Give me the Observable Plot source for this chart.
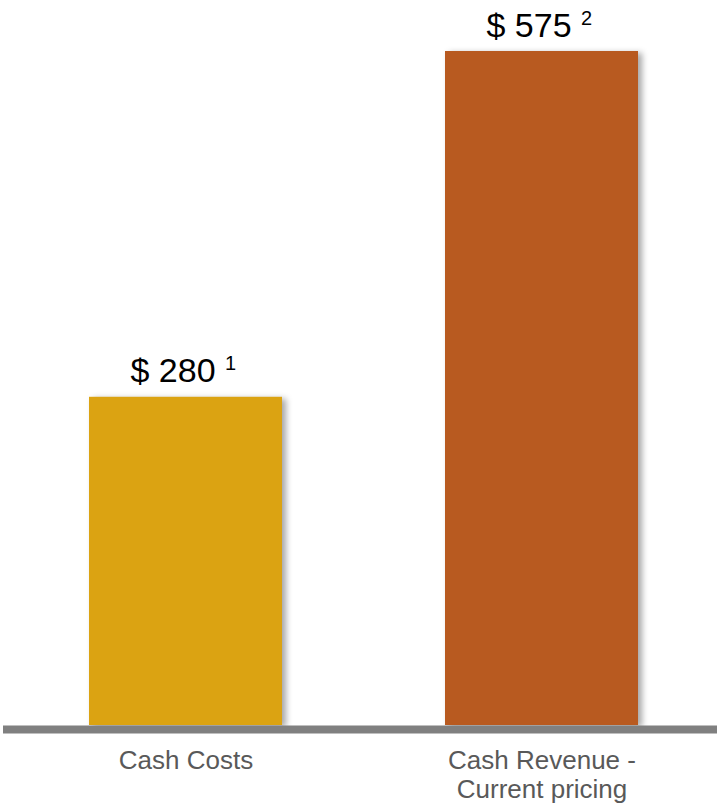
<!DOCTYPE html>
<html><head><meta charset="utf-8">
<script src="https://cdn.jsdelivr.net/npm/d3@7"></script>
<script src="https://cdn.jsdelivr.net/npm/@observablehq/plot@0.6"></script>
<style>
body{margin:0;background:#fff;}
#chart svg g[aria-label="bar"] rect{filter: drop-shadow(4px 2px 3px rgba(0,0,0,0.35));}
</style></head><body><div id="chart"></div>
<script>
const categories = ["Cash Costs", "Cash Revenue - Current pricing"];
const tickLabels = ["Cash Costs", "Cash Revenue -\nCurrent pricing"];
const values = [280, 575];
const valueLabels = ["$ 280", "$ 575"];
const footnotes = ["1", "2"];
const colors = ["#DBA312", "#B85A20"];
const data = categories.map((c, i) => ({category: c, value: values[i], label: valueLabels[i], note: footnotes[i], color: colors[i], tick: tickLabels[i]}));

const chart = Plot.plot({
  width: 717, height: 806,
  marginTop: 51, marginBottom: 81, marginLeft: 3, marginRight: 0,
  style: {fontFamily: "'Liberation Sans', Arial, sans-serif", background: "#fff"},
  x: {type: "band", domain: categories, range: [88, 638], paddingInner: 0.459, paddingOuter: 0, axis: null},
  y: {domain: [0, 575], axis: null},
  color: {type: "identity"},
  marks: [
    Plot.barY(data, {x: "category", y: "value", fill: d => d.color}),
    Plot.ruleY([0], {stroke: "#808080", strokeWidth: 8, dy: 4}),
    Plot.text(data, {x: "category", y: "value", text: "label", dx: -13, dy: -15, fontSize: 34, lineAnchor: "bottom", fill: "#000"}),
    Plot.text(data, {x: "category", y: "value", text: "note", dx: 39, dy: -27, fontSize: 20, textAnchor: "start", lineAnchor: "bottom", fill: "#000"}),
    Plot.text(data, {x: "category", y: 0, text: "tick", dy: 23, fontSize: 26, lineHeight: 1.12, lineAnchor: "top", fill: "#595959"})
  ]
});
document.getElementById("chart").append(chart);
</script></body></html>
